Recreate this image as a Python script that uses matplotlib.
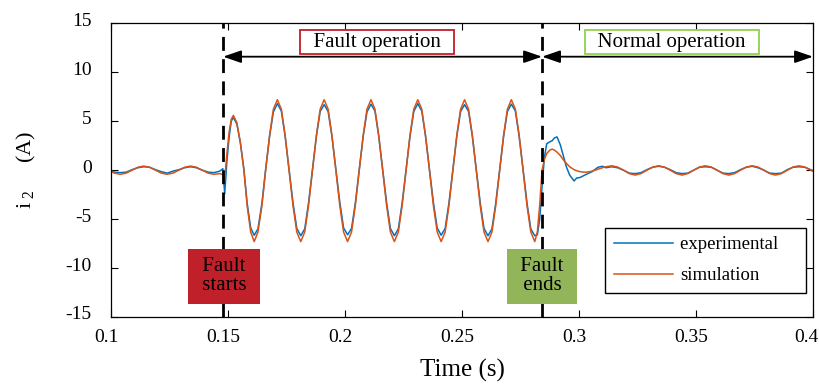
import matplotlib
matplotlib.use("Agg")
import matplotlib.pyplot as plt
import matplotlib.transforms as mtransforms
import numpy as np

plt.rcParams['font.family'] = ['Liberation Serif', 'DejaVu Serif']
plt.rcParams['mathtext.fontset'] = 'custom'
plt.rcParams['mathtext.rm'] = 'Liberation Serif'
plt.rcParams['mathtext.it'] = 'Liberation Serif:italic'
plt.rcParams['axes.unicode_minus'] = False

# ---------------- data ----------------
# pre-fault segment
pre_t = [0.1000, 0.1015, 0.1040, 0.1065, 0.1090, 0.1115, 0.1140, 0.1165, 0.1190, 0.1215,
         0.1240, 0.1265, 0.1290, 0.1315, 0.1340, 0.1365, 0.1390, 0.1415, 0.1440, 0.1465,
         0.1478, 0.1486]
pre_exp = [-0.05, -0.20, -0.25, -0.20, 0.05, 0.25, 0.35, 0.30, 0.05, -0.15,
           -0.30, -0.10, 0.05, 0.25, 0.35, 0.25, 0.00, -0.20, -0.25, -0.10,
           0.15, -2.40]
pre_sim = [-0.15, -0.30, -0.42, -0.30, 0.00, 0.30, 0.42, 0.30, 0.00, -0.30,
           -0.42, -0.30, 0.00, 0.30, 0.42, 0.30, 0.00, -0.30, -0.42, -0.35,
           -0.45, -0.90]

# fault segment
fault_t = [0.1495, 0.1505, 0.1514, 0.1523, 0.1538, 0.1553, 0.1568, 0.1582, 0.1597, 0.1612,
           0.1628, 0.1645, 0.1661, 0.1678, 0.1694,
           0.1711, 0.1728, 0.1744, 0.1761, 0.1778, 0.1794, 0.1811, 0.1828, 0.1844, 0.1861, 0.1878, 0.1894,
           0.1911, 0.1928, 0.1944, 0.1961, 0.1978, 0.1994, 0.2011, 0.2028, 0.2044, 0.2061, 0.2078, 0.2094,
           0.2111, 0.2128, 0.2144, 0.2161, 0.2178, 0.2194, 0.2211, 0.2228, 0.2244, 0.2261, 0.2278, 0.2294,
           0.2311, 0.2328, 0.2344, 0.2361, 0.2378, 0.2394, 0.2411, 0.2428, 0.2444, 0.2461, 0.2478, 0.2494,
           0.2511, 0.2528, 0.2544, 0.2561, 0.2578, 0.2594, 0.2611, 0.2628, 0.2644, 0.2661, 0.2678, 0.2694,
           0.2711, 0.2728, 0.2744, 0.2761, 0.2778, 0.2794]
fault_exp = [0.8, 3.4, 5.0, 5.4, 4.7, 2.8, 0.1, -3.4, -5.9, -6.65,
             -6.0, -3.4, 0.1, 3.5, 5.95,
             6.80, 6.05, 3.5, 0.1, -3.35, -5.95, -6.70, -6.00, -3.4, 0.05, 3.5, 6.00,
             6.70, 6.00, 3.5, 0.1, -3.30, -5.90, -6.60, -5.95, -3.4, 0.10, 3.5, 5.95,
             6.75, 6.05, 3.5, 0.1, -3.35, -5.95, -6.70, -6.00, -3.4, 0.05, 3.5, 6.00,
             6.80, 6.05, 3.5, 0.1, -3.35, -5.90, -6.65, -5.95, -3.4, 0.05, 3.5, 6.00,
             6.70, 6.00, 3.5, 0.1, -3.35, -5.95, -6.70, -6.00, -3.4, 0.05, 3.5, 6.00,
             6.75, 6.05, 3.5, 0.1, -3.40, -6.00]
fault_sim = [1.6, 3.9, 5.2, 5.6, 4.85, 2.8, 0.0, -3.65, -6.32, -7.3,
             -6.32, -3.65, 0.0, 3.6, 6.24,
             7.2, 6.24, 3.6, 0.0, -3.65, -6.32, -7.3, -6.32, -3.65, 0.0, 3.6, 6.24,
             7.2, 6.24, 3.6, 0.0, -3.65, -6.32, -7.3, -6.32, -3.65, 0.0, 3.6, 6.24,
             7.2, 6.24, 3.6, 0.0, -3.65, -6.32, -7.3, -6.32, -3.65, 0.0, 3.6, 6.24,
             7.2, 6.24, 3.6, 0.0, -3.65, -6.32, -7.3, -6.32, -3.65, 0.0, 3.6, 6.24,
             7.2, 6.24, 3.6, 0.0, -3.65, -6.32, -7.3, -6.32, -3.65, 0.0, 3.6, 6.24,
             7.2, 6.24, 3.6, 0.0, -3.65, -6.32]

# post-fault segment
post_t = [0.2811, 0.2822, 0.2832, 0.2842, 0.2852, 0.2862, 0.2875, 0.2885, 0.2895, 0.2906,
          0.2920, 0.2935, 0.2946, 0.2960, 0.2979, 0.2990, 0.3004, 0.3020, 0.3033, 0.3056,
          0.3081, 0.3100, 0.3115, 0.3140, 0.3165, 0.3190, 0.3215, 0.3240, 0.3265, 0.3290,
          0.3315, 0.3340, 0.3365, 0.3390, 0.3415, 0.3440, 0.3465, 0.3490, 0.3515, 0.3540,
          0.3565, 0.3590, 0.3615, 0.3640, 0.3665, 0.3690, 0.3715, 0.3740, 0.3765, 0.3790,
          0.3815, 0.3840, 0.3865, 0.3890, 0.3915, 0.3940, 0.3965, 0.3990, 0.4000]
post_exp = [-6.70, -6.60, -5.00, -1.70, 1.30, 2.70, 2.90, 3.00, 3.30, 3.40,
            2.60, 1.30, 0.35, -0.50, -1.10, -0.80, -0.75, -0.55, -0.40, -0.15,
            0.30, 0.40, 0.25, 0.35, 0.25, 0.00, -0.30, -0.35, -0.25, 0.05,
            0.30, 0.40, 0.30, 0.05, -0.25, -0.35, -0.30, 0.00, 0.30, 0.35,
            0.30, 0.00, -0.30, -0.35, -0.25, 0.05, 0.30, 0.40, 0.25, 0.00,
            -0.30, -0.35, -0.30, 0.05, 0.30, 0.35, 0.30, 0.05, -0.05]
post_sim = [-7.30, -6.30, -3.60, 0.00, 1.10, 1.70, 2.05, 2.15, 2.05, 1.85,
            1.50, 1.00, 0.70, 0.35, 0.05, -0.05, -0.15, -0.20, -0.20, -0.10,
            0.10, 0.25, 0.35, 0.45, 0.32, 0.00, -0.35, -0.50, -0.35, 0.00,
            0.32, 0.45, 0.32, 0.00, -0.35, -0.50, -0.35, 0.00, 0.32, 0.45,
            0.32, 0.00, -0.35, -0.50, -0.35, 0.00, 0.32, 0.45, 0.32, 0.00,
            -0.35, -0.50, -0.35, 0.00, 0.32, 0.45, 0.32, 0.00, -0.12]

fault_start = 0.1479
fault_end = 0.2842
arrow_y = 11.6
x_ticks = [0.1, 0.15, 0.2, 0.25, 0.3, 0.35, 0.4]
x_ticklabels = ['0.1', '0.15', '0.2', '0.25', '0.3', '0.35', '0.4']
y_ticks = [-15, -10, -5, 0, 5, 10, 15]

# ---------------- figure ----------------
t = np.array(pre_t + fault_t + post_t)
exp_v = np.array(pre_exp + fault_exp + post_exp)
sim_v = np.array(pre_sim + fault_sim + post_sim)

fig = plt.figure(figsize=(8.19, 3.87), dpi=100)
ax = fig.add_axes([0.1355, 0.181, 0.8572, 0.7585])

blue = '#0072BD'
orange = '#D95319'
ax.plot(t, exp_v, color=blue, lw=1.1, label='experimental    ', solid_joinstyle='round')
ax.plot(t, sim_v, color=orange, lw=1.1, label='simulation', solid_joinstyle='round')

for xv in (fault_start, fault_end):
    ax.axvline(xv, color='black', lw=2.0, linestyle=(0, (5, 3)), zorder=3)

arrow_kw = dict(arrowstyle='<|-|>,head_length=1.1,head_width=0.38', color='black', lw=1.3,
                shrinkA=0, shrinkB=0)
ax.annotate('', xy=(fault_start, arrow_y), xytext=(fault_end, arrow_y), arrowprops=arrow_kw)
ax.annotate('', xy=(fault_end, arrow_y), xytext=(0.4, arrow_y), arrowprops=arrow_kw)

ax.text(0.2137, 13.05, '  Fault operation  ', ha='center', va='center', fontsize=15,
        bbox=dict(boxstyle='square,pad=0.12', fc='white', ec='#C0202A', lw=1.3))
ax.text(0.3397, 13.05, '  Normal operation  ', ha='center', va='center', fontsize=15,
        bbox=dict(boxstyle='square,pad=0.12', fc='white', ec='#92D050', lw=1.3))

ax.text(fault_start + 0.0004, -10.86, ' Fault \n starts ', ha='center', va='center', fontsize=15,
        linespacing=1.0, multialignment='center',
        bbox=dict(boxstyle='square,pad=0.4', fc='#C0202A', ec='none'), zorder=4)
ax.text(fault_end, -10.86, ' Fault \n ends ', ha='center', va='center', fontsize=15,
        linespacing=1.0, multialignment='center',
        bbox=dict(boxstyle='square,pad=0.4', fc='#92B55A', ec='none'), zorder=4)

ax.set_xlim(0.1, 0.4)
ax.set_ylim(-15, 15)
ax.set_xticks(x_ticks)
ax.set_xticklabels(x_ticklabels)
ax.set_yticks(y_ticks)
ax.tick_params(direction='in', length=5, width=0.8, labelsize=14, top=True, right=True)
ax.tick_params(axis='x', pad=9)
ax.tick_params(axis='y', pad=14)
for s in ax.spines.values():
    s.set_linewidth(0.9)

# small label offsets as in the reference export
xlabs = ax.get_xticklabels()
for i, lab in enumerate(xlabs):
    dx = -7 if i == len(xlabs) - 1 else -5
    lab.set_transform(lab.get_transform() + mtransforms.ScaledTranslation(dx / 100, 0, fig.dpi_scale_trans))
for lab in ax.get_yticklabels():
    lab.set_transform(lab.get_transform() + mtransforms.ScaledTranslation(0, 4 / 100, fig.dpi_scale_trans))

ax.set_xlabel('Time (s)', fontsize=18, labelpad=9)
ax.set_ylabel('i$_{\\ 2}$     (A)', fontsize=16, labelpad=20)

leg = ax.legend(loc='lower right', bbox_to_anchor=(0.990, 0.082), borderaxespad=0,
                fontsize=13.5, frameon=True, fancybox=False, edgecolor='black', framealpha=1,
                handlelength=3.15, borderpad=0.45, labelspacing=0.75, handletextpad=0.4)
leg.get_frame().set_linewidth(1.0)

fig.savefig('out.png', dpi=100)
